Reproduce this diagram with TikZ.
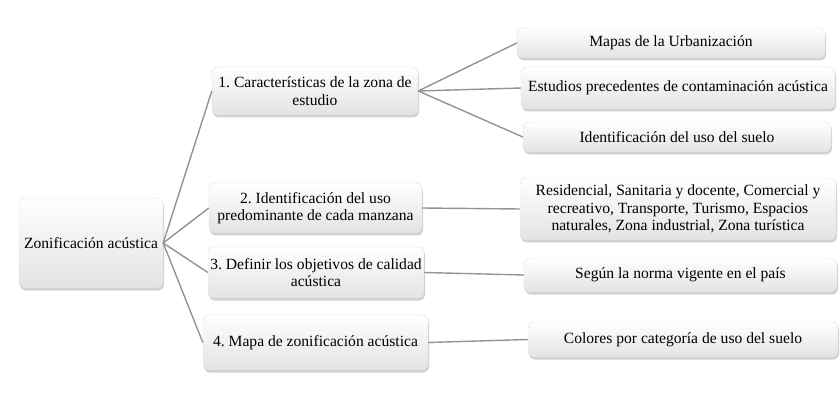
\documentclass[tikz,border=0pt]{standalone}
\usepackage{fontspec}
\setmainfont{Liberation Serif}
\usetikzlibrary{shadows,calc}
\begin{document}
\frenchspacing
\begin{tikzpicture}[x=1pt,y=-1pt,
  box/.style={draw=gray!25, line width=0.4pt, rounded corners=6pt, top color=white, bottom color=gray!22,
    drop shadow={opacity=0.45, shadow xshift=1pt, shadow yshift=-2.5pt, fill=gray!80},
    font=\fontsize{15.6}{17.5}\selectfont, align=center, inner sep=0pt},
  link/.style={draw=gray!85, line width=1.4pt}]
\useasboundingbox (0,0) rectangle (840,403);
\newcommand{\bx}[6]{\node[box, minimum width=#4-#2, minimum height=#5-#3] (#1) at ({(#2+#4)/2},{(#3+#5)/2}) {#6};}
\bx{root}{19}{198}{163}{288}{Zonificación acústica}
\bx{a}{212}{67}{418}{115}{1. Características de la zona de\\ estudio}
\bx{b}{209}{183}{422}{233}{2. Identificación del uso\\ predominante de cada manzana}
\bx{c}{208}{247}{424}{298}{3. Definir los objetivos de calidad\\ acústica}
\bx{d}{203}{315}{428}{370}{4. Mapa de zonificación acústica}
\bx{a1}{517}{28}{825}{58}{Mapas de la Urbanización}
\bx{a2}{521}{67}{835}{109}{Estudios precedentes de contaminación acústica}
\bx{a3}{523}{122}{831}{152}{Identificación del uso del suelo}
\bx{b1}{520}{178}{836}{240}{Residencial, Sanitaria y docente, Comercial y\\ recreativo, Transporte, Turismo, Espacios\\ naturales, Zona industrial, Zona turística}
\bx{c1}{524}{258}{837}{292}{Según la norma vigente en el país}
\bx{d1}{528}{322}{838}{357}{Colores por categoría de uso del suelo}
\foreach \t in {a,b,c,d} \draw[link] (root.east) -- (\t.west);
\foreach \t in {a1,a2,a3} \draw[link] (a.east) -- (\t.west);
\draw[link] (b.east) -- (b1.west);
\draw[link] (c.east) -- (c1.west);
\draw[link] (d.east) -- (d1.west);
\end{tikzpicture}
\end{document}
